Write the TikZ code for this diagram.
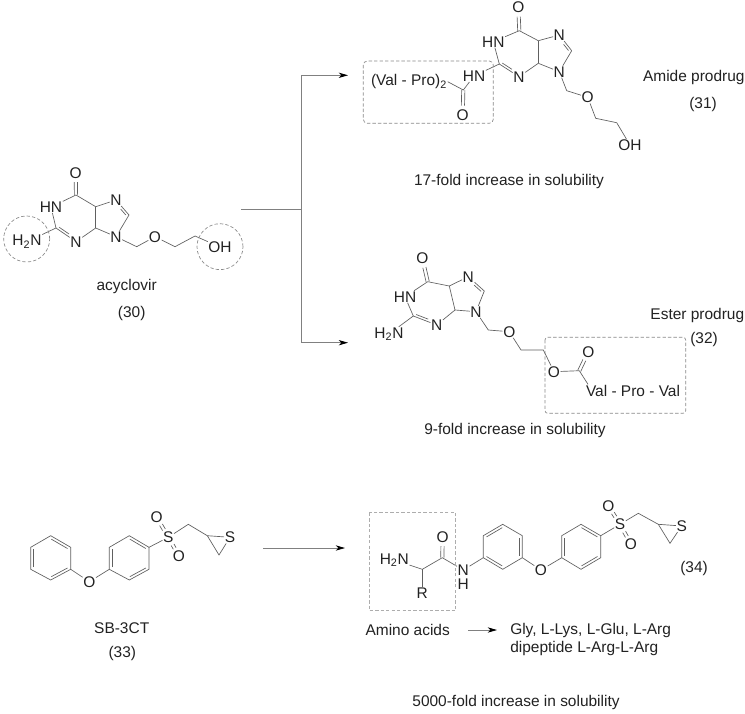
\documentclass[tikz,border=0pt]{standalone}
\usepackage{fontspec}
\setmainfont{Liberation Sans}
\usetikzlibrary{calc,arrows.meta}
\definecolor{inkc}{HTML}{222222}
\definecolor{bondc}{HTML}{606060}
\definecolor{flowc}{HTML}{808080}
\definecolor{dashc}{HTML}{8A8A8A}
\tikzset{
 atom/.style={inner sep=0.3pt,text=inkc,font=\fontsize{11.6}{13}\selectfont},
 label/.style={inner sep=0pt,text=inkc,font=\fontsize{11.6}{13}\selectfont},
 bond/.style={draw=bondc,line width=0.5pt},
 flow/.style={draw=flowc,line width=0.6pt},
 tip/.style={-{Stealth[length=7pt,width=4pt,inset=2pt,color=black,fill=black]}},
 hilite/.style={draw=dashc,line width=0.5pt,dash pattern=on 2.5pt off 1.6pt},
}
% second line of a double bond: offset, on the side given by the sign of #4
\newcommand{\dblb}[4][]{\draw[bond,shorten <=1.6pt,shorten >=1.6pt,#1] ($(#2)!#4!90:(#3)$) -- ($(#3)!#4!-90:(#2)$);}
% carbonyl-like pair of lines
\newcommand{\dblo}[3][]{\draw[bond,#1] ($(#2)!1.2pt!90:(#3)$) -- ($(#3)!1.2pt!-90:(#2)$);\draw[bond,#1] ($(#2)!-1.2pt!90:(#3)$) -- ($(#3)!-1.2pt!-90:(#2)$);}
% purine core, atoms named with prefix #1
\newcommand{\purinebonds}[1]{
 \dblo[shorten >=7pt]{#1C6}{#1O6}
 \draw[bond] (#1C6) -- (#1HN);
 \draw[bond] (#1HN) -- (#1C2);
 \draw[bond] (#1C2) -- (#1N3);
 \dblb[shorten <=7.5pt]{#1N3}{#1C2}{-1.8pt}
 \draw[bond] (#1N3) -- (#1C4);
 \draw[bond] (#1C4) -- (#1C5);
 \draw[bond] (#1C5) -- (#1C6);
 \draw[bond] (#1C5) -- (#1N7);
 \draw[bond] (#1N7) -- (#1C8);
 \dblb[shorten <=7.5pt]{#1N7}{#1C8}{-1.8pt}
 \draw[bond] (#1C8) -- (#1N9);
 \draw[bond] (#1N9) -- (#1C4);
}
\begin{document}
\begin{tikzpicture}[x=0.75pt,y=-0.75pt]
\useasboundingbox (0,0) rectangle (745,713);
\fill[white] (0,0) rectangle (745,713);

% ---------- acyclovir
\node[atom] (aO6) at (75.7,172.7) {O};
\coordinate (aC6) at (76,195);
\node[atom] (aHN) at (51,207) {HN};
\coordinate (aC5) at (95.7,206.7);
\node[atom] (aN7) at (116,200) {N};
\coordinate (aC8) at (129,215);
\node[atom] (aN9) at (116,236.7) {N};
\coordinate (aC4) at (95.7,228);
\node[atom] (aN3) at (76,241.7) {N};
\coordinate (aC2) at (56,228);
\node[atom] (aNH2) at (27,241.7) {H\textsubscript{2}N};
\coordinate (aC1p) at (136.7,246.7);
\node[atom] (aO) at (155,236.7) {O};
\coordinate (aC2p) at (175,246.7);
\coordinate (aC3p) at (195,236);
\node[atom] (aOH) at (220,247) {OH};
\purinebonds{a}
\draw[bond] (aC2) -- (aNH2);
\draw[bond] (aN9) -- (aC1p) -- (aO) -- (aC2p) -- (aC3p) -- (aOH);
\node[hilite,circle,minimum size=34.5pt,inner sep=0pt] (acirc) at (26.7,239) {};
\node[hilite,circle,minimum size=34.5pt,inner sep=0pt] (bcirc) at (220,246.7) {};
\node[label] (aname) at (126.7,286.7) {acyclovir};
\node[label] (anum) at (131.7,313) {(30)};

% ---------- branching arrows
\coordinate (src) at (241,209.3);
\coordinate (fork) at (301.7,209.3);
\coordinate (forkt) at (301.7,75.3);
\coordinate (forkb) at (301.7,342.7);
\coordinate (endt) at (348,75.3);
\coordinate (endb) at (348,342.7);
\draw[flow] (src) -- (fork);
\draw[flow] (forkt) -- (forkb);
\draw[flow,tip] (forkt) -- (endt);
\draw[flow,tip] (forkb) -- (endb);

% ---------- amide prodrug
\node[atom] (bO6) at (518.3,7.3) {O};
\coordinate (bC6) at (519.3,30.7);
\node[atom] (bHN) at (493.3,41.7) {HN};
\coordinate (bC5) at (538.3,40.7);
\node[atom] (bN7) at (559.3,35) {N};
\coordinate (bC8) at (571.7,50.7);
\node[atom] (bN9) at (559.3,71.7) {N};
\coordinate (bC4) at (538.3,63.3);
\node[atom] (bN3) at (519,76.7) {N};
\coordinate (bC2) at (499.3,64);
\node[atom] (bNH) at (474,76) {HN};
\coordinate (bCO) at (463.3,90);
\node[atom] (bOx) at (462.7,115) {O};
\node[atom] (bVP) at (409,81.7) {(Val - Pro)\textsubscript{2}};
\coordinate (bC1p) at (566.7,90.7);
\node[atom] (bO) at (587.7,97.3) {O};
\coordinate (bC2p) at (595.7,118.3);
\coordinate (bC3p) at (616.7,122.7);
\node[atom] (bOH) at (630,145) {OH};
\purinebonds{b}
\draw[bond] (bC2) -- (bNH) -- (bCO) -- (bVP.east);
\dblo[shorten >=7pt]{bCO}{bOx}
\draw[bond] (bN9) -- (bC1p) -- (bO) -- (bC2p) -- (bC3p) -- (bOH);
\draw[hilite,rounded corners=3pt] (363.3,61) rectangle (493.3,123.3);
\node[label] (bname) at (693.8,77.3) {Amide prodrug};
\node[label] (bnum) at (703,104) {(31)};
\node[label] (bfold) at (509,182) {17-fold increase in solubility};

% ---------- ester prodrug
\node[atom] (cO6) at (422.3,258.3) {O};
\coordinate (cC6) at (427.7,281.7);
\node[atom] (cHN) at (405,296.7) {HN};
\coordinate (cC5) at (449.3,286);
\node[atom] (cN7) at (468.3,276.7) {N};
\coordinate (cC8) at (484.3,291);
\node[atom] (cN9) at (476,311.7) {N};
\coordinate (cC4) at (455,310);
\node[atom] (cN3) at (436.7,325) {N};
\coordinate (cC2) at (413.3,316);
\node[atom] (cNH2) at (389,334) {H\textsubscript{2}N};
\coordinate (cC1p) at (488.3,330);
\node[atom] (cO) at (509.3,331.7) {O};
\coordinate (cC2p) at (521,350);
\coordinate (cC3p) at (543.3,350);
\node[atom] (cOe) at (554,371.7) {O};
\coordinate (cCO) at (579.3,370.7);
\node[atom] (cOx) at (588.3,351.7) {O};
\node[atom] (cVP) at (633,390.7) {Val - Pro - Val};
\purinebonds{c}
\draw[bond] (cC2) -- (cNH2);
\draw[bond] (cN9) -- (cC1p) -- (cO) -- (cC2p) -- (cC3p) -- (cOe) -- (cCO);
\draw[bond] (cCO) -- ($(cVP.north west)+(2pt,0)$);
\dblo[shorten >=7pt]{cCO}{cOx}
\draw[hilite,rounded corners=2pt] (545,337.3) rectangle (685.7,413.3);
\node[label] (cname) at (697.3,315) {Ester prodrug};
\node[label] (cnum) at (704,339) {(32)};
\node[label] (cfold) at (515,430.7) {9-fold increase in solubility};

% ---------- SB-3CT
\coordinate (dA1) at (50.7,535.7);
\coordinate (dA2) at (70.7,547.3);
\coordinate (dA3) at (70.7,569.3);
\coordinate (dA4) at (50.7,580);
\coordinate (dA5) at (30.7,569.3);
\coordinate (dA6) at (30.7,547.3);
\node[atom] (dO) at (89.3,581.7) {O};
\coordinate (dB1) at (129.3,535.7);
\coordinate (dB2) at (149,547.3);
\coordinate (dB3) at (149,569.3);
\coordinate (dB4) at (129.3,580);
\coordinate (dB5) at (109.3,569.3);
\coordinate (dB6) at (109.3,547.3);
\node[atom] (dS) at (168.3,537.3) {S};
\node[atom] (dOu) at (156.7,517.3) {O};
\node[atom] (dOd) at (179,556) {O};
\coordinate (dCH) at (188.3,524.3);
\coordinate (dCr) at (207.3,535.7);
\node[atom] (dSr) at (230,537.3) {S};
\coordinate (dCb) at (219,555);
\draw[bond] (dA1) -- (dA2) -- (dA3) -- (dA4) -- (dA5) -- (dA6) -- cycle;
\dblb{dA1}{dA2}{-2pt} \dblb{dA3}{dA4}{-2pt} \dblb{dA5}{dA6}{-2pt}
\draw[bond] (dA3) -- (dO) -- (dB5);
\draw[bond] (dB1) -- (dB2) -- (dB3) -- (dB4) -- (dB5) -- (dB6) -- cycle;
\dblb{dB1}{dB2}{-2pt} \dblb{dB3}{dB4}{-2pt} \dblb{dB5}{dB6}{-2pt}
\draw[bond] (dB2) -- (dS) -- (dCH) -- (dCr) -- (dSr) -- (dCb) -- (dCr);
\dblo[shorten <=6.5pt,shorten >=6.5pt]{dS}{dOu}
\dblo[shorten <=6.5pt,shorten >=6.5pt]{dS}{dOd}
\node[label] (dname) at (121.7,628.3) {SB-3CT};
\node[label] (dnum) at (122.3,653.3) {(33)};

% ---------- reaction arrow
\coordinate (rs) at (263.3,548);
\coordinate (re) at (345,548);
\draw[flow,tip] (rs) -- (re);

% ---------- compound 34
\node[atom] (eNH2) at (394.3,560) {H\textsubscript{2}N};
\coordinate (eCH) at (422.3,569.3);
\node[atom] (eR) at (422.3,593.3) {R};
\coordinate (eCO) at (442.3,557.7);
\node[atom] (eOx) at (442.7,536.7) {O};
\node[atom] (eN) at (463.3,570) {N};
\node[atom] (eH) at (463.3,584.3) {H};
\coordinate (eA1) at (502.7,524.3);
\coordinate (eA2) at (522.3,535.7);
\coordinate (eA3) at (522.3,557.7);
\coordinate (eA4) at (502.7,569.3);
\coordinate (eA5) at (483.3,557.7);
\coordinate (eA6) at (483.3,535.7);
\node[atom] (eO) at (541,570) {O};
\coordinate (eB1) at (581,524.3);
\coordinate (eB2) at (600.7,535.7);
\coordinate (eB3) at (600.7,557.7);
\coordinate (eB4) at (581,569.3);
\coordinate (eB5) at (561.7,557.7);
\coordinate (eB6) at (561.7,535.7);
\node[atom] (eS) at (620,524.3) {S};
\node[atom] (eOu) at (608.3,505.7) {O};
\node[atom] (eOd) at (631,544.3) {O};
\coordinate (eCH2) at (638.3,513.3);
\coordinate (eCr) at (658.3,524.3);
\node[atom] (eSr) at (681.7,526) {S};
\coordinate (eCb) at (670,543.3);
\draw[bond] (eNH2) -- (eCH) -- (eCO) -- (eN) -- (eA5);
\draw[bond] (eCH) -- (eR);
\dblo[shorten >=7pt]{eCO}{eOx}
\draw[bond] (eA1) -- (eA2) -- (eA3) -- (eA4) -- (eA5) -- (eA6) -- cycle;
\dblb{eA6}{eA1}{-2pt} \dblb{eA2}{eA3}{-2pt} \dblb{eA4}{eA5}{-2pt}
\draw[bond] (eA3) -- (eO) -- (eB5);
\draw[bond] (eB1) -- (eB2) -- (eB3) -- (eB4) -- (eB5) -- (eB6) -- cycle;
\dblb{eB1}{eB2}{-2pt} \dblb{eB3}{eB4}{-2pt} \dblb{eB5}{eB6}{-2pt}
\draw[bond] (eB2) -- (eS) -- (eCH2) -- (eCr) -- (eSr) -- (eCb) -- (eCr);
\dblo[shorten <=6.5pt,shorten >=6.5pt]{eS}{eOu}
\dblo[shorten <=6.5pt,shorten >=6.5pt]{eS}{eOd}
\draw[hilite,draw=dashc!70,line width=0.9pt] (369.3,512.7) rectangle (455.7,610.7);
\node[label] (enum) at (694,568) {(34)};
\node[label] (eaa) at (407.7,630) {Amino acids};
\node[label,anchor=west] (egly) at (510,630) {Gly, L-Lys, L-Glu, L-Arg};
\node[label,anchor=west] (edip) at (510,648.3) {dipeptide L-Arg-L-Arg};
\coordinate (aas) at (468,630);
\coordinate (aae) at (497,630);
\draw[flow,tip] (aas) -- (aae);
\node[label] (efold) at (516,702.3) {5000-fold increase in solubility};
\end{tikzpicture}
\end{document}
